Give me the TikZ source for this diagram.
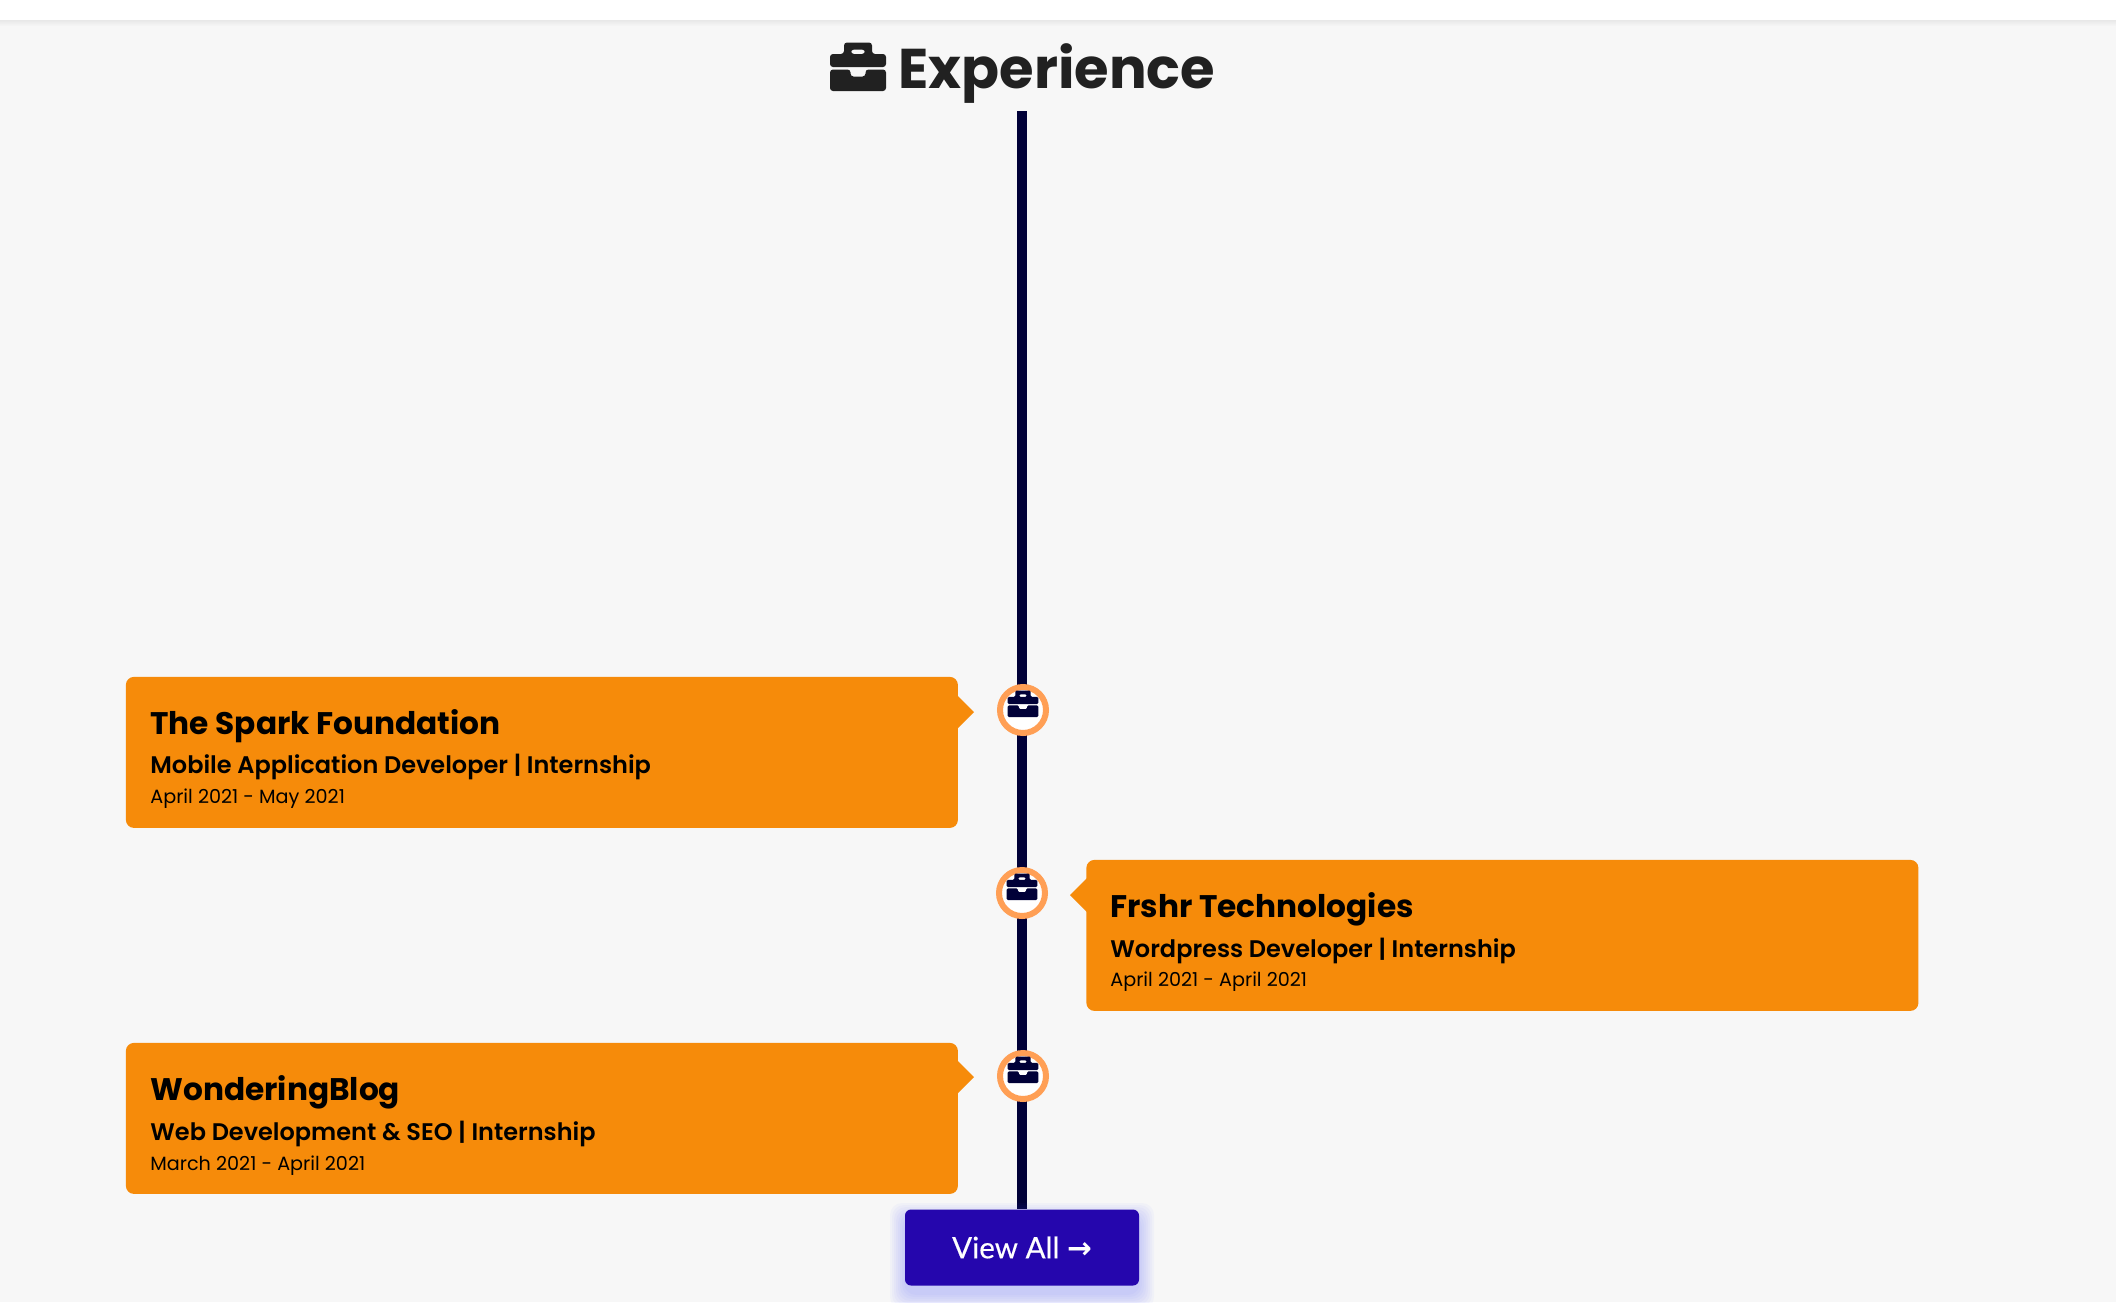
\documentclass[tikz,border=0pt]{standalone}
\usepackage{fontspec}
\setmainfont{Poppins}
\newfontfamily\popsemi{Poppins SemiBold}
\newfontfamily\btnfont[FakeBold=0.35]{Lato}
\newfontfamily\arrowfont{DejaVu Sans}
\usetikzlibrary{positioning}

\definecolor{pagebg}{HTML}{F7F7F7}
\definecolor{cardfill}{HTML}{F68B0A}
\definecolor{linenavy}{HTML}{010138}
\definecolor{ringorange}{HTML}{FF9F55}
\definecolor{btnfill}{HTML}{2506AD}
\definecolor{glowblue}{HTML}{4A55FF}
\definecolor{headink}{HTML}{212121}

\tikzset{
	card/.style={fill=cardfill, rounded corners=4pt, inner sep=0pt, minimum width=416pt, minimum height=75.5pt, anchor=north west},
	company/.style={font=\bfseries\fontsize{15.6}{18}\selectfont, inner sep=0pt, anchor=base west},
	jobrole/.style={font=\popsemi\fontsize{12}{14}\selectfont, inner sep=0pt, anchor=base west},
	period/.style={font=\fontsize{9.6}{12}\selectfont, inner sep=0pt, anchor=base west},
	ring/.style={circle, fill=white, draw=ringorange, line width=3pt, minimum size=23pt, inner sep=0pt},
	pics/briefcase/.style={code={
		\fill[#1, even odd rule] (-28,0) -- (-28,-13) -- (-14,-13) -- (-14,-24.5) -- (14,-24.5) -- (14,-13) -- (28,-13) -- (28,0) -- cycle
			(-7,-17.5) -- (7,-17.5) -- (7,-13) -- (-7,-13) -- cycle;
		\fill[#1] (-28,2.5) -- (-7.5,2.5) -- (-7.5,9.5) -- (7.5,9.5) -- (7.5,2.5) -- (28,2.5) -- (28,24) -- (-28,24) -- cycle;
	}}
}

\begin{document}
\begin{tikzpicture}[x=0.5pt, y=-0.5pt]
	\useasboundingbox (0,0) rectangle (2116,1302);
	\fill[pagebg] (0,0) rectangle (2116,1302);

	% top bar
	\foreach \d/\o in {0/0.06,1/0.05,2/0.04,3/0.03,4/0.02,5/0.01}
		\fill[black, opacity=\o] (0,20+\d) rectangle (2116,21+\d);
	\fill[white] (0,0) rectangle (2116,20);

	% heading
	\pic[rounded corners=1.5pt] at (858,67) {briefcase=headink};
	\node[font=\bfseries\fontsize{28}{34}\selectfont, text=headink, inner sep=0pt, anchor=base west] (heading) at (898,88) {Experience};

	% timeline
	\coordinate (linetop) at (1022,111);
	\coordinate (linebottom) at (1022,1209);
	\draw[linenavy, line width=5pt] (linetop) -- (linebottom);

	% cards
	\node[card] (sparkcard) at (125.5,676.5) {};
	\node[card] (frshrcard) at (1086,859.5) {};
	\node[card] (blogcard) at (125.5,1042.5) {};

	\fill[cardfill] (950,688) -- (974,712) -- (950,736) -- cycle;
	\fill[cardfill] (1094,871) -- (1070,895) -- (1094,919) -- cycle;
	\fill[cardfill] (950,1053) -- (974,1077) -- (950,1101) -- cycle;

	\node[company] (sparkname) at (150,734) {The Spark Foundation};
	\node[jobrole] (sparkrole) at (150,773.5) {Mobile Application Developer | Internship};
	\node[period] (sparkdate) at (150,803.5) {April 2021 - May 2021};

	\node[company] (frshrname) at (1110,917.5) {Frshr Technologies};
	\node[jobrole] (frshrrole) at (1110,957) {Wordpress Developer | Internship};
	\node[period] (frshrdate) at (1110,986.5) {April 2021 - April 2021};

	\node[company] (blogname) at (150,1100.5) {WonderingBlog};
	\node[jobrole] (blogrole) at (150,1140) {Web Development \& SEO | Internship};
	\node[period] (blogdate) at (150,1170) {March 2021 - April 2021};

	% markers
	\node[ring] (sparkmark) at (1023,710) {};
	\node[ring] (frshrmark) at (1022,893) {};
	\node[ring] (blogmark) at (1023,1076) {};
	\foreach \m in {sparkmark,frshrmark,blogmark}
		\pic[rounded corners=0.7pt] at ([yshift=3pt]\m.center) [scale=0.55] {briefcase=linenavy};

	% button
	\foreach \g in {1,3,...,15}
		\fill[glowblue, opacity=0.035, rounded corners=6pt] (905-\g,1209+9-\g) rectangle (1139+\g,1285+9+\g);
	\node[fill=btnfill, rounded corners=3pt, minimum width=117pt, minimum height=38pt, inner sep=0pt, text=white, font=\btnfont\fontsize{14.8}{18}\selectfont] (viewall) at (1022,1247.5) {View All {\arrowfont\bfseries→}};
\end{tikzpicture}
\end{document}
